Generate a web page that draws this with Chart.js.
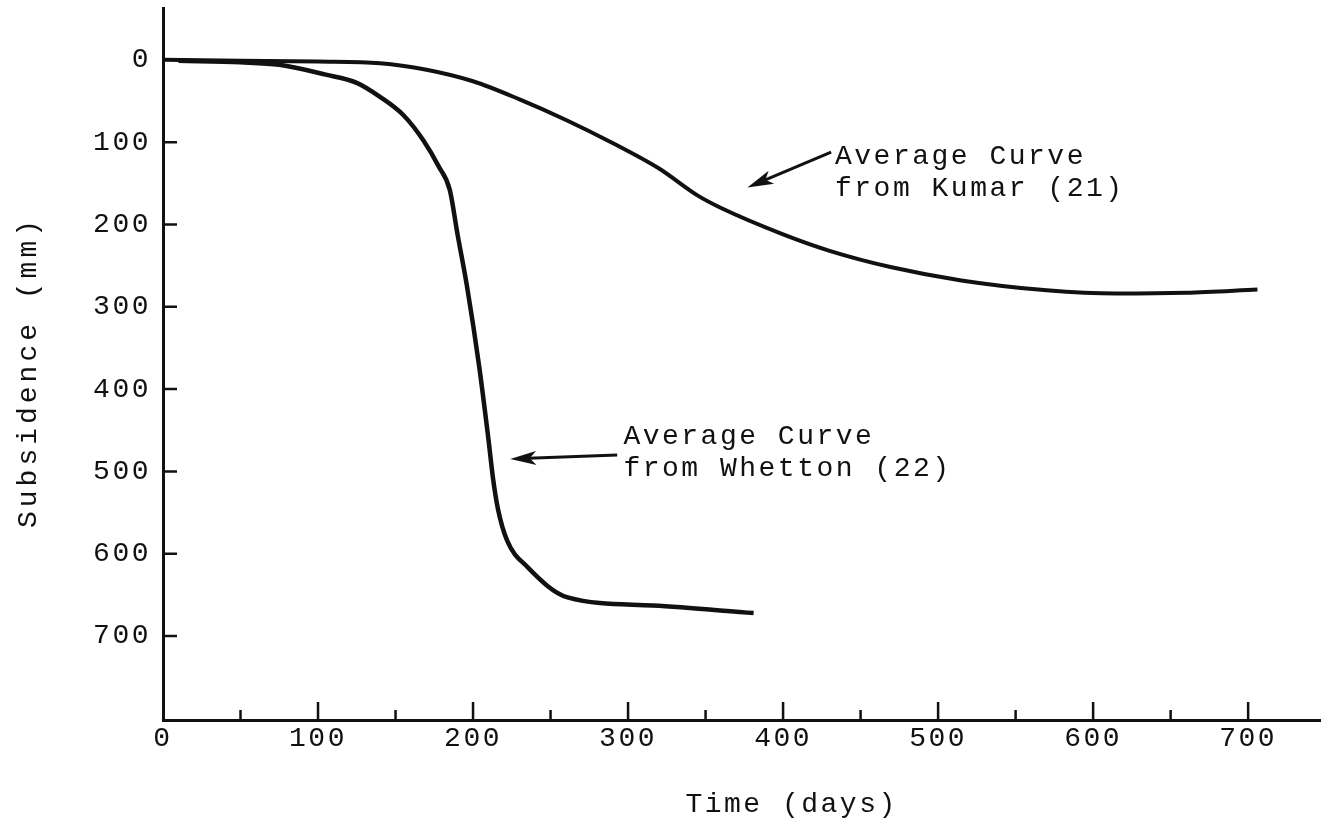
<!DOCTYPE html>
<html>
<head>
<meta charset="utf-8">
<script src="https://cdn.jsdelivr.net/npm/chart.js@4"></script>
<style>
  html, body { margin: 0; padding: 0; background: #fff; }
  #wrap { width: 1321px; height: 830px; }
</style>
</head>
<body>
<div id="wrap"><canvas id="myChart"></canvas></div>
<script>
// values (time in days, subsidence in mm)
const kumarDays = [0, 50, 100, 140, 170, 200, 230, 260, 290, 320, 345, 360, 400, 430, 470, 515, 570, 615, 660, 706];
const kumarSubsidence = [0, 1, 2, 4, 12, 26, 48, 73, 101, 132, 165, 180, 212, 232, 252, 268, 280, 284, 283, 279];

const whettonDays = [10, 50, 75, 105, 125, 140, 155, 168, 178, 185, 190, 196, 204, 210, 213, 216, 222, 235, 261, 316, 381];
const whettonSubsidence = [1, 3, 6, 18, 28, 45, 67, 98, 130, 158, 212, 274, 373, 462, 510, 545, 584, 616, 653, 663, 672];

const xTicks = [0, 100, 200, 300, 400, 500, 600, 700];
const xMinorTicks = [50, 150, 250, 350, 450, 550, 650];
const yTicks = [0, 100, 200, 300, 400, 500, 600, 700];

const ink = '#111';
const typeFont = '28px "Liberation Mono", "DejaVu Sans Mono", monospace';

const toPoints = (xs, ys) => xs.map((d, i) => ({ x: d, y: ys[i] }));

function arrow(ctx, x1, y1, x2, y2) {
  const ang = Math.atan2(y2 - y1, x2 - x1);
  const len = 26, half = 7;
  const c = Math.cos(ang), s = Math.sin(ang);
  ctx.beginPath();
  ctx.moveTo(x1, y1);
  ctx.lineTo(x2 - c * len * 0.7, y2 - s * len * 0.7);
  ctx.lineWidth = 3;
  ctx.stroke();
  ctx.beginPath();
  ctx.moveTo(x2, y2);
  ctx.lineTo(x2 - c * len - s * half, y2 - s * len + c * half);
  ctx.lineTo(x2 - c * len * 0.75, y2 - s * len * 0.75);
  ctx.lineTo(x2 - c * len + s * half, y2 - s * len - c * half);
  ctx.closePath();
  ctx.fill();
}

const inkPlugin = {
  id: 'ink',
  beforeDraw(chart) {
    chart.ctx.letterSpacing = '2.5px';
  },
  afterDraw(chart) {
    const { ctx, chartArea: a } = chart;
    const x = chart.scales.x, y = chart.scales.y;
    ctx.save();
    ctx.strokeStyle = ink;
    ctx.fillStyle = ink;
    ctx.lineWidth = 2.5;

    // tick marks point into the plot
    ctx.beginPath();
    yTicks.slice(1).forEach(v => {
      const py = y.getPixelForValue(v);
      ctx.moveTo(a.left, py); ctx.lineTo(a.left + 14, py);
    });
    xTicks.slice(1).forEach(v => {
      const px = x.getPixelForValue(v);
      ctx.moveTo(px, a.bottom); ctx.lineTo(px, a.bottom - 18);
    });
    xMinorTicks.forEach(v => {
      const px = x.getPixelForValue(v);
      ctx.moveTo(px, a.bottom); ctx.lineTo(px, a.bottom - 10);
    });
    ctx.stroke();

    // labels on the curves
    ctx.font = typeFont;
    ctx.letterSpacing = '2.5px';
    ctx.textAlign = 'left';
    ctx.textBaseline = 'middle';
    ctx.fillText('Average Curve', x.getPixelForValue(433.5), y.getPixelForValue(118));
    ctx.fillText('from Kumar (21)', x.getPixelForValue(433.5), y.getPixelForValue(156));
    ctx.fillText('Average Curve', x.getPixelForValue(297), y.getPixelForValue(458));
    ctx.fillText('from Whetton (22)', x.getPixelForValue(297), y.getPixelForValue(496));

    arrow(ctx, x.getPixelForValue(431), y.getPixelForValue(112), x.getPixelForValue(377), y.getPixelForValue(155));
    arrow(ctx, x.getPixelForValue(293), y.getPixelForValue(480), x.getPixelForValue(224), y.getPixelForValue(485));

    // axis titles
    ctx.fillText('Time (days)', x.getPixelForValue(337), 805);
    ctx.letterSpacing = '4px';
    ctx.translate(29, (a.top + a.bottom) / 2 + 8);
    ctx.rotate(-Math.PI / 2);
    ctx.textAlign = 'center';
    ctx.fillText('Subsidence (mm)', 0, 0);
    ctx.restore();
  }
};

new Chart(document.getElementById('myChart'), {
  type: 'line',
  data: {
    datasets: [
      {
        label: 'Average Curve from Kumar (21)',
        data: toPoints(kumarDays, kumarSubsidence),
        borderColor: ink,
        borderWidth: 4,
        pointRadius: 0,
        cubicInterpolationMode: 'monotone',
        fill: false
      },
      {
        label: 'Average Curve from Whetton (22)',
        data: toPoints(whettonDays, whettonSubsidence),
        borderColor: ink,
        borderWidth: 4.5,
        pointRadius: 0,
        cubicInterpolationMode: 'monotone',
        fill: false
      }
    ]
  },
  options: {
    responsive: true,
    maintainAspectRatio: false,
    animation: false,
    layout: { padding: { top: 8, right: 0, left: 0, bottom: 0 } },
    plugins: {
      legend: { display: false },
      tooltip: { enabled: false }
    },
    scales: {
      x: {
        type: 'linear',
        min: 0,
        max: 747,
        grid: { display: false, drawTicks: false },
        border: { display: true, color: ink, width: 3 },
        afterBuildTicks: s => { s.ticks = xTicks.map(v => ({ value: v })); },
        afterFit: s => { s.height = 110; s.paddingLeft = 0; s.paddingRight = 0; },
        ticks: {
          color: ink,
          font: { family: '"Liberation Mono", monospace', size: 28 },
          padding: 2,
          maxRotation: 0
        }
      },
      y: {
        type: 'linear',
        reverse: true,
        min: -63,
        max: 802,
        grid: { display: false, drawTicks: false },
        border: { display: true, color: ink, width: 3 },
        afterBuildTicks: s => { s.ticks = yTicks.map(v => ({ value: v })); },
        afterFit: s => { s.width = 163; s.paddingTop = 0; s.paddingBottom = 0; },
        ticks: {
          color: ink,
          font: { family: '"Liberation Mono", monospace', size: 28 },
          padding: 12
        }
      }
    }
  },
  plugins: [inkPlugin]
});
</script>
</body>
</html>
